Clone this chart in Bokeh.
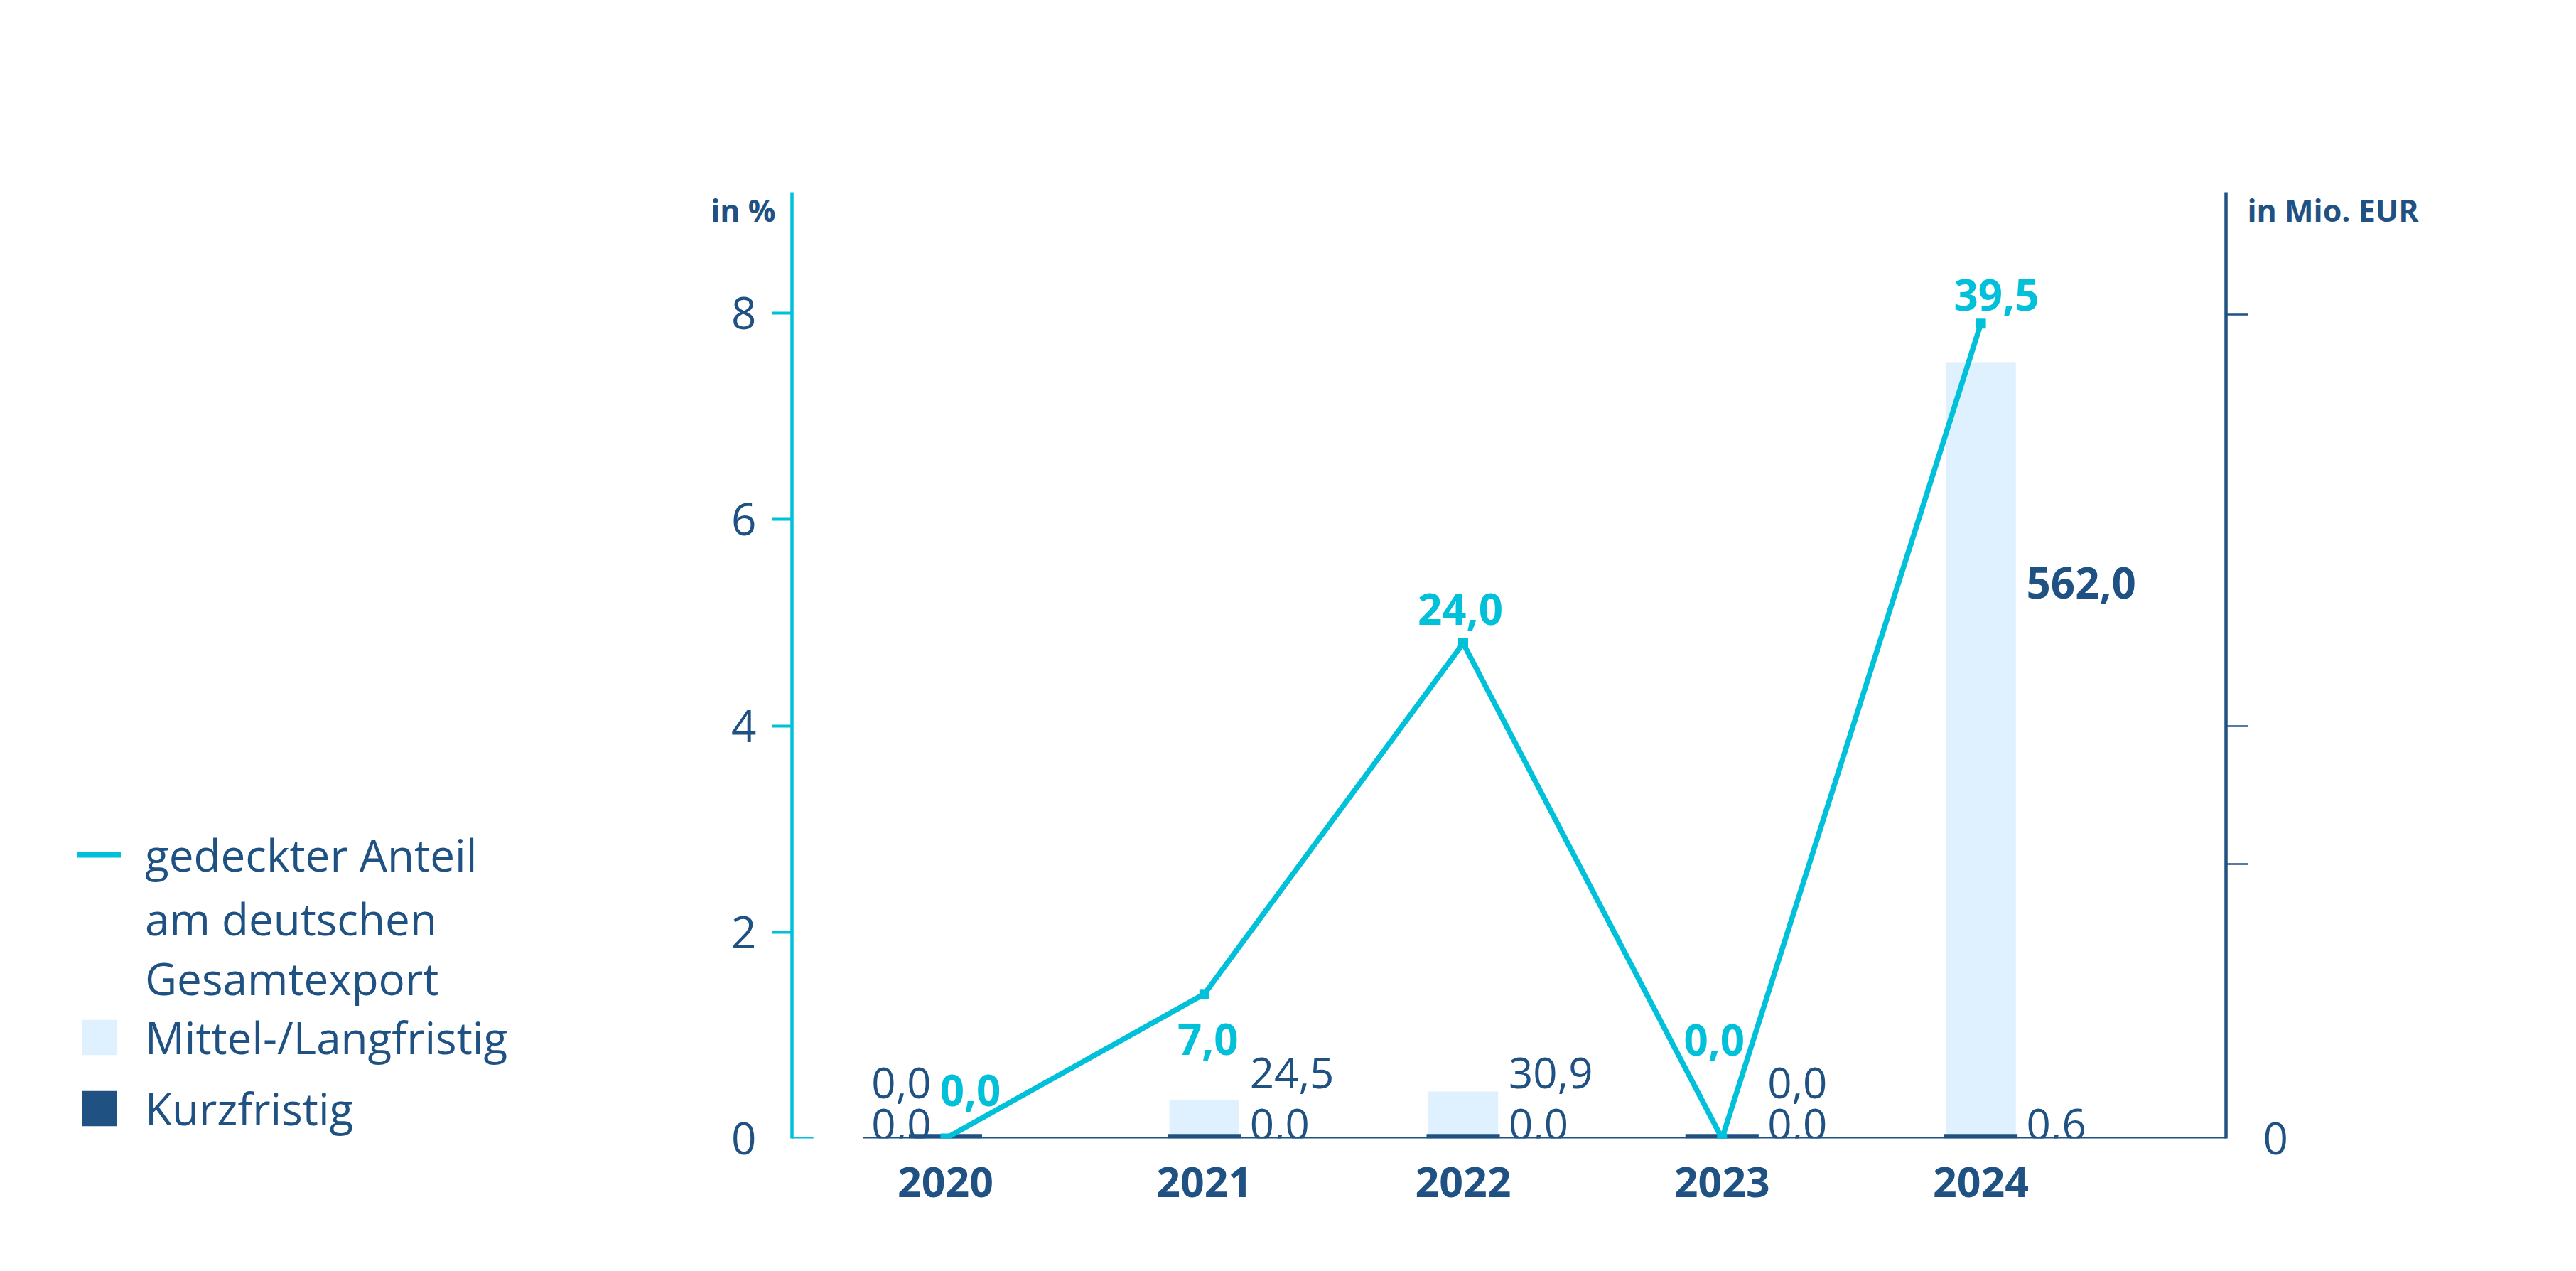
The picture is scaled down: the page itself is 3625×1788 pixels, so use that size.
from bokeh.plotting import figure
from bokeh.models import (Range1d, LinearAxis, FixedTicker, ColumnDataSource, Legend,
                          LegendItem)
from bokeh.layouts import row
from bokeh.embed import file_html
from bokeh.resources import INLINE
from bokeh.core.properties import value

# ---------------- data ----------------
years = ["2020", "2021", "2022", "2023", "2024"]
mittel_lang = [0.0, 24.5, 30.9, 0.0, 562.0]      # Mio. EUR
kurz = [0.0, 0.0, 0.0, 0.0, 0.6]                  # Mio. EUR
anteil = [0.0, 7.0, 24.0, 0.0, 39.5]              # gedeckter Anteil
left_ticks = [0, 2, 4, 6, 8]
right_ticks = [200, 300, 600]
line_legend_lines = ["gedeckter Anteil", "am deutschen\nGesamtexport"]
bar_legend_labels = ["Mittel-/Langfristig", "Kurzfristig"]
left_title, right_title = "in %", "in Mio. EUR"

# ---------------- style ----------------
CYAN = "#00c1d9"
DARK = "#1f5283"
LIGHT = "#dff0fe"
FONT = "Open Sans"

def de(v):
    return f"{v:.1f}".replace(".", ",")

idx = list(range(len(years)))
X0, X1 = -0.593, 4.947
Y_LEFT = 9.173
Y_BARS = 688.9
Y_LINE = Y_LEFT * 5
TITLE_Y_LEFT = 9.0      # height of the axis titles, expressed on each axis
TITLE_Y_RIGHT = 676

LEFT_W = 900
MAIN_W = 2700
H = 1760

p = figure(width=MAIN_W, height=H, output_backend="svg", toolbar_location=None,
           x_range=Range1d(X0, X1), y_range=Range1d(0, Y_LEFT),
           min_border_left=1122 - 8 - LEFT_W, min_border_right=8 + LEFT_W + MAIN_W - 3140,
           min_border_top=270, min_border_bottom=8 + H - 1609,
           outline_line_color=None, background_fill_color="white")
p.grid.visible = False
p.extra_y_ranges = {"bars": Range1d(0, Y_BARS), "line": Range1d(0, Y_LINE)}

# left axis (cyan)
ya = p.yaxis[0]
ya.ticker = FixedTicker(ticks=left_ticks, minor_ticks=[t for t in left_ticks if t > 0])
ya.axis_line_color = CYAN
ya.axis_line_width = 4.5
ya.major_tick_line_color = None
ya.major_tick_out = 28
ya.major_tick_in = 0
ya.minor_tick_line_color = CYAN
ya.minor_tick_line_width = 4
ya.minor_tick_out = 28
ya.minor_tick_in = 0
ya.major_label_standoff = 22
ya.major_label_text_font = FONT
ya.major_label_text_font_size = "62px"
ya.major_label_text_color = DARK

def title_axis(text, tick, standoff, range_name="default"):
    ax = LinearAxis(y_range_name=range_name, ticker=FixedTicker(ticks=[tick]),
                    major_label_overrides={tick: text})
    ax.axis_line_color = None
    ax.major_tick_line_color = None
    ax.minor_tick_line_color = None
    ax.major_tick_out = 0
    ax.major_tick_in = 0
    ax.major_label_standoff = standoff
    ax.major_label_text_font = FONT
    ax.major_label_text_font_style = "bold"
    ax.major_label_text_font_size = "43px"
    ax.major_label_text_color = DARK
    return ax

# bottom axis (years)
xa = p.xaxis[0]
xa.ticker = FixedTicker(ticks=idx)
xa.major_label_overrides = {i: y for i, y in zip(idx, years)}
xa.axis_line_color = None
xa.major_tick_line_color = None
xa.minor_tick_line_color = None
xa.major_tick_out = 0
xa.major_label_standoff = 40
xa.major_label_text_font = FONT
xa.major_label_text_font_style = "bold"
xa.major_label_text_font_size = "59px"
xa.major_label_text_color = DARK

# right axis (Mio. EUR)
raxis = LinearAxis(y_range_name="bars", ticker=FixedTicker(ticks=[0], minor_ticks=right_ticks))
raxis.axis_line_color = DARK
raxis.axis_line_width = 4.5
raxis.major_tick_line_color = None
raxis.major_tick_out = 31
raxis.major_tick_in = 0
raxis.minor_tick_line_color = DARK
raxis.minor_tick_line_width = 2.5
raxis.minor_tick_out = 31
raxis.minor_tick_in = 0
raxis.major_label_standoff = 21
raxis.major_label_text_font = FONT
raxis.major_label_text_font_size = "62px"
raxis.major_label_text_color = DARK
p.add_layout(raxis, "right")

# axis titles (outer axes carrying only the unit text)
p.add_layout(title_axis(left_title, TITLE_Y_LEFT, -65), "left")
p.add_layout(title_axis(right_title, TITLE_Y_RIGHT, -60, "bars"), "right")

# baseline decorations
p.segment(x0=[X0], y0=[0], x1=[X0 + 0.083], y1=[0], line_color=CYAN, line_width=5)
p.segment(x0=[-0.317], y0=[0], x1=[X1], y1=[0], line_color=DARK, line_width=4,
          y_range_name="bars")

# bars
dark_top = [max(v, 3.2) for v in kurz]
light_top = [d + m for d, m in zip(dark_top, mittel_lang)]
src = ColumnDataSource(dict(x=idx, dark_top=dark_top, light_top=light_top))
p.vbar(x="x", width=0.27, bottom="dark_top", top="light_top", source=src,
       fill_color=LIGHT, line_color=None, y_range_name="bars")
p.vbar(x="x", width=0.283, bottom=0, top="dark_top", source=src,
       fill_color=DARK, line_color=None, y_range_name="bars")

# line
p.line(idx, anteil, line_color=CYAN, line_width=7.5, y_range_name="line", line_join="miter")
p.scatter(idx, anteil, marker="square", size=14, fill_color=CYAN, line_color=None,
          y_range_name="line")

# line labels
line_dx = [35, 5, -4, -11, 22]
line_dy = [-68, 64, -48, -139, -40]
lsrc = ColumnDataSource(dict(x=idx, y=anteil, t=[de(v) for v in anteil],
                             dx=line_dx, dy=line_dy))
p.text(x="x", y="y", text="t", x_offset="dx", y_offset="dy", source=lsrc,
       y_range_name="line", text_align="center", text_baseline="alphabetic",
       text_font=value(FONT), text_font_style="bold", text_font_size="60px",
       text_color=CYAN)

# bar labels
align = ["right"] + ["left"] * (len(idx) - 1)
bx = [-20] + [64] * (len(idx) - 1)
dsrc = ColumnDataSource(dict(x=idx, y=[0] * len(idx), t=[de(v) for v in kurz],
                             dx=bx, al=align))
p.text(x="x", y="y", text="t", x_offset="dx", y_offset=-20, source=dsrc,
       y_range_name="bars", text_align="al", text_baseline="alphabetic",
       text_font=value(FONT), text_font_size="60px", text_color=DARK)
big = [v > 100 for v in mittel_lang]
msrc = ColumnDataSource(dict(
    x=idx,
    y=[v * 0.72 if b else 0 for v, b in zip(mittel_lang, big)],
    t=[de(v) for v in mittel_lang], dx=bx, al=align,
    dy=[0 if b else (-92 if v > 10 else -78) for v, b in zip(mittel_lang, big)],
    fs=["bold" if b else "normal" for b in big]))
p.text(x="x", y="y", text="t", x_offset="dx", y_offset="dy", source=msrc,
       y_range_name="bars", text_align="al", text_baseline="alphabetic",
       text_font=value(FONT), text_font_style="fs", text_font_size="60px",
       text_color=DARK)

# ---------------- legend panel ----------------
lf = figure(width=LEFT_W, height=H, output_backend="svg", toolbar_location=None,
            x_range=Range1d(0, 1), y_range=Range1d(0, 1),
            x_axis_location=None, y_axis_location=None, min_border=0,
            outline_line_color=None)
lf.grid.visible = False
# renderers kept outside the visible range: they only supply the legend glyphs
r_line = lf.line(x=[5, 6], y=[5, 5], line_color=CYAN, line_width=8, line_cap="round")
r_blank = lf.line(x=[5, 6], y=[5, 5], line_alpha=0)
r_light = lf.vbar(x=[5], top=[6], bottom=5, width=0.1, fill_color=LIGHT, line_color=None)
r_dark = lf.vbar(x=[5], top=[6], bottom=5, width=0.1, fill_color=DARK, line_color=None)

def style_legend(lg, spacing, line_height=1.24):
    lg.glyph_width = 61
    lg.glyph_height = 62
    lg.label_standoff = 34
    lg.spacing = spacing
    lg.padding = 0
    lg.margin = 0
    lg.border_line_color = None
    lg.background_fill_alpha = 0
    lg.label_text_font = FONT
    lg.label_text_font_size = "62px"
    lg.label_text_color = DARK
    lg.label_text_line_height = line_height

leg_a = Legend(items=[LegendItem(label=line_legend_lines[0], renderers=[r_line])],
               location=(109, 357), orientation="vertical")
style_legend(leg_a, 0)
leg_a2 = Legend(items=[LegendItem(label=line_legend_lines[1], renderers=[r_blank])],
                location=(109, 183), orientation="vertical")
style_legend(leg_a2, 0)
leg_b = Legend(items=[LegendItem(label=bar_legend_labels[0], renderers=[r_light]),
                      LegendItem(label=bar_legend_labels[1], renderers=[r_dark])],
               location=(109, 0), orientation="vertical")
style_legend(leg_b, 16)
lf.add_layout(leg_a)
lf.add_layout(leg_a2)
lf.add_layout(leg_b)

layout = row(lf, p, spacing=0)
open("out.html", "w").write(file_html(layout, INLINE))
